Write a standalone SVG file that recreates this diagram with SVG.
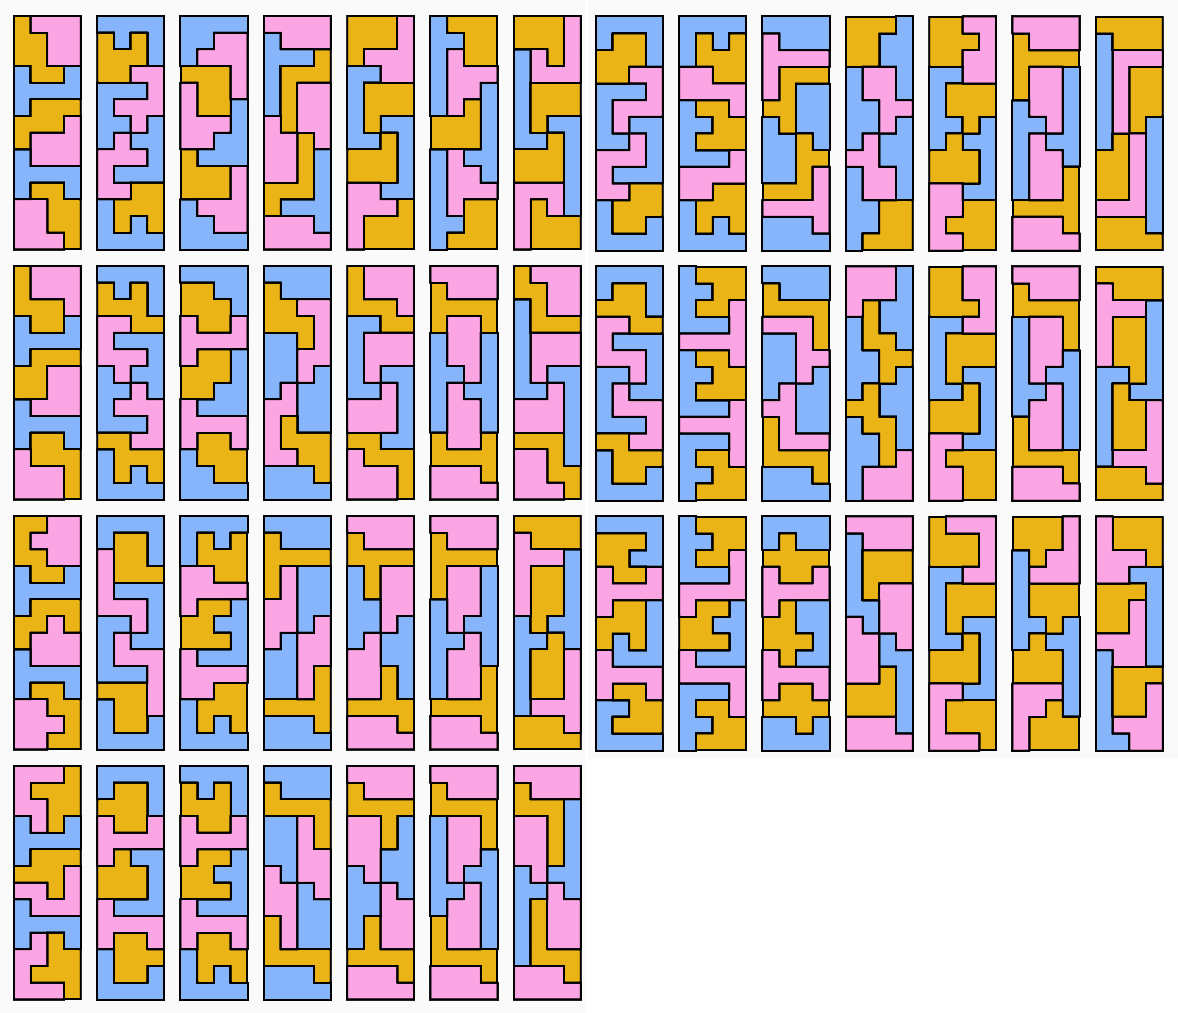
<svg xmlns="http://www.w3.org/2000/svg" width="1178" height="1013" viewBox="0 0 1178 1013">
<style>
.b{fill:#86B5FB}.y{fill:#EBB416}.p{fill:#FBA5E4}
</style>
<defs>
<filter id="outline" filterUnits="userSpaceOnUse" x="0" y="0" width="1178" height="1013" color-interpolation-filters="sRGB">
<feColorMatrix in="SourceGraphic" type="matrix" values="0 0 0 0 0 0 0 0 0 0 0 0 0 0 0 0 0 -2 1.6 0" result="my"/>
<feColorMatrix in="SourceGraphic" type="matrix" values="0 0 0 0 0 0 0 0 0 0 0 0 0 0 0 4 0 2 0 -4.2" result="mp"/>
<feColorMatrix in="SourceGraphic" type="matrix" values="0 0 0 0 0 0 0 0 0 0 0 0 0 0 0 -3 0 3 0 0" result="mb"/>
<feMorphology in="my" operator="dilate" radius="1" result="myd"/>
<feMorphology in="my" operator="erode" radius="1" result="mye"/>
<feComposite in="myd" in2="mye" operator="out" result="ey"/>
<feMorphology in="mp" operator="dilate" radius="1" result="mpd"/>
<feMorphology in="mp" operator="erode" radius="1" result="mpe"/>
<feComposite in="mpd" in2="mpe" operator="out" result="ep"/>
<feMorphology in="mb" operator="dilate" radius="1" result="mbd"/>
<feMorphology in="mb" operator="erode" radius="1" result="mbe"/>
<feComposite in="mbd" in2="mbe" operator="out" result="eb"/>
<feMerge result="band"><feMergeNode in="ey"/><feMergeNode in="ep"/><feMergeNode in="eb"/></feMerge>
<feFlood flood-color="#000" result="ink"/>
<feComposite in="ink" in2="band" operator="in" result="lines"/>
<feMerge><feMergeNode in="SourceGraphic"/><feMergeNode in="lines"/></feMerge>
</filter>
</defs>
<rect width="1178" height="1013" fill="#ffffff"/>
<rect x="0" y="0" width="585" height="1013" fill="#fafafa"/>
<rect x="588" y="0" width="590" height="759" fill="#fafafa"/>
<g id="tiles" filter="url(#outline)">
<g id="r1c1" transform="translate(14 16) scale(16.667)"><rect class="b" width="4" height="14"/><path class="y" d="M0 0h1v1h-1zM0 1h2v2h-2zM1 3h2v1h-2zM1 5h3v1h-3zM0 6h3v1h-3zM0 7h1v1h-1zM1 10h2v1h-2zM2 11h2v2h-2zM3 13h1v1h-1z"/><path class="p" d="M1 0h3v1h-3zM2 1h2v2h-2zM3 6h1v1h-1zM1 7h3v2h-3zM0 11h2v2h-2zM0 13h3v1h-3z"/></g>
<g id="r1c2" transform="translate(97.33 16) scale(16.667)"><rect class="b" width="4" height="14"/><path class="y" d="M0 1h1v1h-1zM2 1h1v1h-1zM0 2h3v1h-3zM0 3h2v1h-2zM2 10h2v1h-2zM1 11h3v1h-3zM1 12h1v1h-1zM3 12h1v1h-1z"/><path class="p" d="M2 3h2v1h-2zM3 4h1v1h-1zM1 5h3v1h-3zM2 6h1v1h-1zM1 7h1v1h-1zM0 8h3v1h-3zM0 9h1v1h-1zM0 10h2v1h-2z"/></g>
<g id="r1c3" transform="translate(180.67 16) scale(16.667)"><rect class="b" width="4" height="14"/><path class="y" d="M0 3h3v1h-3zM1 4h2v2h-2zM0 8h1v1h-1zM0 9h3v2h-3z"/><path class="p" d="M2 1h2v1h-2zM1 2h3v1h-3zM3 3h1v2h-1zM0 4h1v2h-1zM0 6h3v1h-3zM0 7h2v1h-2zM3 9h1v2h-1zM1 11h3v1h-3zM2 12h2v1h-2z"/></g>
<g id="r1c4" transform="translate(264 16) scale(16.667)"><rect class="b" width="4" height="14"/><path class="y" d="M3 2h1v1h-1zM1 3h3v1h-3zM1 4h1v3h-1zM2 7h1v3h-1zM0 10h3v1h-3zM0 11h1v1h-1z"/><path class="p" d="M0 0h4v1h-4zM1 1h3v1h-3zM2 4h2v3h-2zM0 6h1v1h-1zM0 7h2v3h-2zM3 7h1v1h-1zM0 12h3v1h-3zM0 13h4v1h-4z"/></g>
<g id="r1c5" transform="translate(347.33 16) scale(16.667)"><rect class="b" width="4" height="14"/><path class="y" d="M0 0h3v2h-3zM0 2h1v1h-1zM1 4h3v2h-3zM1 6h1v1h-1zM2 7h1v1h-1zM0 8h3v2h-3zM3 11h1v1h-1zM1 12h3v2h-3z"/><path class="p" d="M3 0h1v2h-1zM1 2h3v1h-3zM2 3h2v1h-2zM0 10h2v1h-2zM0 11h3v1h-3zM0 12h1v2h-1z"/></g>
<g id="r1c6" transform="translate(430.67 16) scale(16.667)"><rect class="b" width="4" height="14"/><path class="y" d="M1 0h3v1h-3zM2 1h2v2h-2zM2 5h1v1h-1zM0 6h3v2h-3zM2 11h2v2h-2zM1 13h3v1h-3z"/><path class="p" d="M1 2h1v1h-1zM1 3h3v1h-3zM1 4h2v1h-2zM1 5h1v1h-1zM1 8h1v1h-1zM1 9h2v1h-2zM1 10h3v1h-3zM1 11h1v1h-1z"/></g>
<g id="r1c7" transform="translate(514 16) scale(16.667)"><rect class="b" width="4" height="14"/><path class="y" d="M0 0h3v2h-3zM2 2h1v1h-1zM1 4h3v2h-3zM1 6h1v1h-1zM2 7h1v1h-1zM0 8h3v2h-3zM1 11h1v1h-1zM1 12h3v2h-3z"/><path class="p" d="M3 0h1v3h-1zM1 2h1v1h-1zM1 3h3v1h-3zM0 10h3v1h-3zM0 11h1v3h-1zM2 11h1v1h-1z"/></g>
<g id="r1c8" transform="translate(596 16.8) scale(16.667)"><rect class="b" width="4" height="14"/><path class="y" d="M1 1h2v1h-2zM0 2h3v1h-3zM0 3h2v1h-2zM2 10h2v1h-2zM1 11h3v1h-3zM1 12h2v1h-2z"/><path class="p" d="M2 3h2v1h-2zM3 4h1v1h-1zM1 5h3v1h-3zM1 6h1v1h-1zM2 7h1v1h-1zM0 8h3v1h-3zM0 9h1v1h-1zM0 10h2v1h-2z"/></g>
<g id="r1c9" transform="translate(679.33 16.8) scale(16.667)"><rect class="b" width="4" height="14"/><path class="y" d="M1 1h1v1h-1zM3 1h1v1h-1zM1 2h3v1h-3zM2 3h2v1h-2zM1 5h2v1h-2zM2 6h2v1h-2zM1 7h3v1h-3zM2 10h2v1h-2zM1 11h3v1h-3zM1 12h1v1h-1zM3 12h1v1h-1z"/><path class="p" d="M0 3h2v1h-2zM0 4h4v1h-4zM3 5h1v1h-1zM3 8h1v1h-1zM0 9h4v1h-4zM0 10h2v1h-2z"/></g>
<g id="r1c10" transform="translate(762.67 16.8) scale(16.667)"><rect class="b" width="4" height="14"/><path class="y" d="M1 3h3v1h-3zM1 4h1v1h-1zM0 5h2v1h-2zM1 6h1v1h-1zM2 7h1v3h-1zM3 8h1v1h-1zM0 10h3v1h-3z"/><path class="p" d="M0 1h1v1h-1zM0 2h4v1h-4zM0 3h1v2h-1zM3 9h1v2h-1zM0 11h4v1h-4zM3 12h1v1h-1z"/></g>
<g id="r1c11" transform="translate(846 16.8) scale(16.667)"><rect class="b" width="4" height="14"/><path class="y" d="M0 0h3v1h-3zM0 1h2v2h-2zM2 11h2v2h-2zM1 13h3v1h-3z"/><path class="p" d="M1 3h2v2h-2zM2 5h2v1h-2zM2 6h1v1h-1zM1 7h1v1h-1zM0 8h2v1h-2zM1 9h2v2h-2z"/></g>
<g id="r1c12" transform="translate(929.33 16.8) scale(16.667)"><rect class="b" width="4" height="14"/><path class="y" d="M0 0h2v3h-2zM2 1h1v1h-1zM1 4h3v2h-3zM2 6h1v1h-1zM1 7h1v1h-1zM0 8h3v2h-3zM2 11h2v3h-2zM1 12h1v1h-1z"/><path class="p" d="M2 0h2v1h-2zM3 1h1v1h-1zM2 2h2v2h-2zM0 10h2v2h-2zM0 12h1v1h-1zM0 13h2v1h-2z"/></g>
<g id="r1c13" transform="translate(1012.67 16.8) scale(16.667)"><rect class="b" width="4" height="14"/><path class="y" d="M0 1h1v1h-1zM0 2h4v1h-4zM0 3h1v2h-1zM3 9h1v2h-1zM0 11h4v1h-4zM3 12h1v1h-1z"/><path class="p" d="M0 0h4v1h-4zM1 1h3v1h-3zM1 3h2v3h-2zM2 6h1v1h-1zM1 7h1v1h-1zM1 8h2v3h-2zM0 12h3v1h-3zM0 13h4v1h-4z"/></g>
<g id="r1c14" transform="translate(1096 16.8) scale(16.667)"><rect class="b" width="4" height="14"/><path class="y" d="M0 0h4v1h-4zM1 1h3v1h-3zM2 3h2v3h-2zM2 6h1v1h-1zM1 7h1v1h-1zM0 8h2v3h-2zM0 12h3v1h-3zM0 13h4v1h-4z"/><path class="p" d="M1 2h3v1h-3zM1 3h1v4h-1zM2 7h1v4h-1zM0 11h3v1h-3z"/></g>
<g id="r2c1" transform="translate(14 266) scale(16.667)"><rect class="b" width="4" height="14"/><path class="y" d="M0 0h1v2h-1zM0 2h3v1h-3zM1 3h2v1h-2zM1 5h3v1h-3zM0 6h2v2h-2zM1 10h2v1h-2zM1 11h3v1h-3zM3 12h1v2h-1z"/><path class="p" d="M1 0h3v2h-3zM3 2h1v1h-1zM2 6h2v2h-2zM1 8h3v1h-3zM0 11h1v1h-1zM0 12h3v2h-3z"/></g>
<g id="r2c2" transform="translate(97.33 266) scale(16.667)"><rect class="b" width="4" height="14"/><path class="y" d="M0 1h1v1h-1zM2 1h1v1h-1zM0 2h3v1h-3zM2 3h2v1h-2zM0 10h2v1h-2zM1 11h3v1h-3zM1 12h1v1h-1zM3 12h1v1h-1z"/><path class="p" d="M0 3h2v1h-2zM0 4h1v1h-1zM0 5h3v1h-3zM1 6h1v1h-1zM2 7h1v1h-1zM1 8h3v1h-3zM3 9h1v1h-1zM2 10h2v1h-2z"/></g>
<g id="r2c3" transform="translate(180.67 266) scale(16.667)"><rect class="b" width="4" height="14"/><path class="y" d="M0 1h2v1h-2zM0 2h3v1h-3zM1 3h2v1h-2zM1 5h2v1h-2zM0 6h3v1h-3zM0 7h2v1h-2zM1 10h2v1h-2zM1 11h3v1h-3zM2 12h2v1h-2z"/><path class="p" d="M0 3h1v1h-1zM3 3h1v1h-1zM0 4h4v1h-4zM0 5h1v1h-1zM0 8h1v1h-1zM0 9h4v1h-4zM0 10h1v1h-1zM3 10h1v1h-1z"/></g>
<g id="r2c4" transform="translate(264 266) scale(16.667)"><rect class="b" width="4" height="14"/><path class="y" d="M0 1h1v1h-1zM0 2h2v1h-2zM0 3h3v1h-3zM2 4h1v1h-1zM1 9h1v1h-1zM1 10h3v1h-3zM2 11h2v1h-2zM3 12h1v1h-1z"/><path class="p" d="M2 2h2v1h-2zM3 3h1v2h-1zM2 5h2v1h-2zM2 6h1v1h-1zM1 7h1v1h-1zM0 8h2v1h-2zM0 9h1v2h-1zM0 11h2v1h-2z"/></g>
<g id="r2c5" transform="translate(347.33 266) scale(16.667)"><rect class="b" width="4" height="14"/><path class="y" d="M0 0h1v2h-1zM0 2h3v1h-3zM2 3h2v1h-2zM0 10h2v1h-2zM1 11h3v1h-3zM3 12h1v2h-1z"/><path class="p" d="M1 0h3v2h-3zM3 2h1v1h-1zM1 4h3v2h-3zM1 6h1v1h-1zM2 7h1v1h-1zM0 8h3v2h-3zM0 11h1v1h-1zM0 12h3v2h-3z"/></g>
<g id="r2c6" transform="translate(430.67 266) scale(16.667)"><rect class="b" width="4" height="14"/><path class="y" d="M0 1h1v1h-1zM0 2h4v1h-4zM0 3h1v1h-1zM3 3h1v1h-1zM0 10h1v1h-1zM3 10h1v1h-1zM0 11h4v1h-4zM3 12h1v1h-1z"/><path class="p" d="M0 0h4v1h-4zM1 1h3v1h-3zM1 3h2v3h-2zM2 6h1v1h-1zM1 7h1v1h-1zM1 8h2v3h-2zM0 12h3v1h-3zM0 13h4v1h-4z"/></g>
<g id="r2c7" transform="translate(514 266) scale(16.667)"><rect class="b" width="4" height="14"/><path class="y" d="M0 0h1v1h-1zM0 1h2v1h-2zM1 2h1v1h-1zM1 3h3v1h-3zM0 10h3v1h-3zM2 11h1v2h-1zM3 12h1v2h-1z"/><path class="p" d="M1 0h3v1h-3zM2 1h2v2h-2zM1 4h3v2h-3zM1 6h1v1h-1zM2 7h1v1h-1zM0 8h3v2h-3zM0 11h2v2h-2zM0 13h3v1h-3z"/></g>
<g id="r2c8" transform="translate(596 266.8) scale(16.667)"><rect class="b" width="4" height="14"/><path class="y" d="M1 1h2v1h-2zM0 2h3v1h-3zM2 3h2v1h-2zM0 10h2v1h-2zM1 11h3v1h-3zM1 12h2v1h-2z"/><path class="p" d="M0 3h2v1h-2zM0 4h1v1h-1zM0 5h3v1h-3zM2 6h1v1h-1zM1 7h1v1h-1zM1 8h3v1h-3zM3 9h1v1h-1zM2 10h2v1h-2z"/></g>
<g id="r2c9" transform="translate(679.33 266.8) scale(16.667)"><rect class="b" width="4" height="14"/><path class="y" d="M1 0h3v1h-3zM2 1h2v1h-2zM1 2h2v1h-2zM1 5h2v1h-2zM2 6h2v1h-2zM1 7h3v1h-3zM1 11h2v1h-2zM2 12h2v1h-2zM1 13h3v1h-3z"/><path class="p" d="M3 2h1v2h-1zM0 4h4v1h-4zM3 5h1v1h-1zM3 8h1v1h-1zM0 9h4v1h-4zM3 10h1v2h-1z"/></g>
<g id="r2c10" transform="translate(762.67 266.8) scale(16.667)"><rect class="b" width="4" height="14"/><path class="y" d="M0 1h1v1h-1zM0 2h4v1h-4zM3 3h1v2h-1zM0 9h1v2h-1zM0 11h4v1h-4zM3 12h1v1h-1z"/><path class="p" d="M0 3h3v1h-3zM2 4h1v1h-1zM2 5h2v1h-2zM2 6h1v1h-1zM1 7h1v1h-1zM0 8h2v1h-2zM1 9h1v1h-1zM1 10h3v1h-3z"/></g>
<g id="r2c11" transform="translate(846 266.8) scale(16.667)"><rect class="b" width="4" height="14"/><path class="y" d="M1 2h1v2h-1zM1 4h2v1h-2zM2 5h2v1h-2zM2 6h1v1h-1zM1 7h1v1h-1zM0 8h2v1h-2zM1 9h2v1h-2zM2 10h1v2h-1z"/><path class="p" d="M0 0h3v2h-3zM0 2h1v1h-1zM3 11h1v1h-1zM1 12h3v2h-3z"/></g>
<g id="r2c12" transform="translate(929.33 266.8) scale(16.667)"><rect class="b" width="4" height="14"/><path class="y" d="M0 0h2v2h-2zM0 2h3v1h-3zM1 4h3v2h-3zM1 6h1v1h-1zM2 7h1v1h-1zM0 8h3v2h-3zM1 11h3v1h-3zM2 12h2v2h-2z"/><path class="p" d="M2 0h2v2h-2zM3 2h1v1h-1zM2 3h2v1h-2zM0 10h2v1h-2zM0 11h1v1h-1zM0 12h2v2h-2z"/></g>
<g id="r2c13" transform="translate(1012.67 266.8) scale(16.667)"><rect class="b" width="4" height="14"/><path class="y" d="M0 1h1v1h-1zM0 2h4v1h-4zM3 3h1v2h-1zM0 9h1v2h-1zM0 11h4v1h-4zM3 12h1v1h-1z"/><path class="p" d="M0 0h4v1h-4zM1 1h3v1h-3zM1 3h2v3h-2zM1 6h1v1h-1zM2 7h1v1h-1zM1 8h2v3h-2zM0 12h3v1h-3zM0 13h4v1h-4z"/></g>
<g id="r2c14" transform="translate(1096 266.8) scale(16.667)"><rect class="b" width="4" height="14"/><path class="y" d="M0 0h4v1h-4zM1 1h3v1h-3zM1 3h2v3h-2zM2 6h1v1h-1zM1 7h1v1h-1zM1 8h2v3h-2zM0 12h3v1h-3zM0 13h4v1h-4z"/><path class="p" d="M0 1h1v1h-1zM0 2h3v1h-3zM0 3h1v3h-1zM3 8h1v3h-1zM1 11h3v1h-3zM3 12h1v1h-1z"/></g>
<g id="r3c1" transform="translate(14 516) scale(16.667)"><rect class="b" width="4" height="14"/><path class="y" d="M0 0h2v1h-2zM0 1h1v1h-1zM0 2h2v1h-2zM1 3h2v1h-2zM1 5h3v1h-3zM0 6h2v1h-2zM3 6h1v1h-1zM0 7h1v1h-1zM1 10h2v1h-2zM2 11h2v1h-2zM3 12h1v1h-1zM2 13h2v1h-2z"/><path class="p" d="M2 0h2v1h-2zM1 1h3v1h-3zM2 2h2v1h-2zM2 6h1v1h-1zM1 7h3v2h-3zM0 11h2v1h-2zM0 12h3v1h-3zM0 13h2v1h-2z"/></g>
<g id="r3c2" transform="translate(97.33 516) scale(16.667)"><rect class="b" width="4" height="14"/><path class="y" d="M1 1h2v2h-2zM1 3h3v1h-3zM0 10h3v1h-3zM1 11h2v2h-2z"/><path class="p" d="M0 2h1v3h-1zM0 5h3v1h-3zM2 6h1v1h-1zM1 7h1v1h-1zM1 8h3v1h-3zM3 9h1v3h-1z"/></g>
<g id="r3c3" transform="translate(180.67 516) scale(16.667)"><rect class="b" width="4" height="14"/><path class="y" d="M1 1h1v1h-1zM3 1h1v1h-1zM1 2h3v1h-3zM2 3h2v1h-2zM1 5h2v1h-2zM0 6h2v1h-2zM0 7h3v1h-3zM2 10h2v1h-2zM1 11h3v1h-3zM1 12h1v1h-1zM3 12h1v1h-1z"/><path class="p" d="M0 3h2v1h-2zM0 4h4v1h-4zM0 5h1v1h-1zM0 8h1v1h-1zM0 9h4v1h-4zM0 10h2v1h-2z"/></g>
<g id="r3c4" transform="translate(264 516) scale(16.667)"><rect class="b" width="4" height="14"/><path class="y" d="M0 1h1v1h-1zM0 2h4v1h-4zM0 3h1v2h-1zM3 9h1v2h-1zM0 11h4v1h-4zM3 12h1v1h-1z"/><path class="p" d="M1 3h1v2h-1zM0 5h2v2h-2zM3 6h1v1h-1zM0 7h1v1h-1zM2 7h2v2h-2zM2 9h1v2h-1z"/></g>
<g id="r3c5" transform="translate(347.33 516) scale(16.667)"><rect class="b" width="4" height="14"/><path class="y" d="M0 1h1v1h-1zM0 2h4v1h-4zM1 3h1v2h-1zM2 9h1v2h-1zM0 11h4v1h-4zM3 12h1v1h-1z"/><path class="p" d="M0 0h4v1h-4zM1 1h3v1h-3zM2 3h2v3h-2zM2 6h1v1h-1zM1 7h1v1h-1zM0 8h2v3h-2zM0 12h3v1h-3zM0 13h4v1h-4z"/></g>
<g id="r3c6" transform="translate(430.67 516) scale(16.667)"><rect class="b" width="4" height="14"/><path class="y" d="M0 1h1v1h-1zM0 2h4v1h-4zM0 3h1v2h-1zM3 9h1v2h-1zM0 11h4v1h-4zM3 12h1v1h-1z"/><path class="p" d="M0 0h4v1h-4zM1 1h3v1h-3zM1 3h2v3h-2zM1 6h1v1h-1zM2 7h1v1h-1zM1 8h2v3h-2zM0 12h3v1h-3zM0 13h4v1h-4z"/></g>
<g id="r3c7" transform="translate(514 516) scale(16.667)"><rect class="b" width="4" height="14"/><path class="y" d="M0 0h4v1h-4zM1 1h3v1h-3zM1 3h2v3h-2zM1 6h1v1h-1zM2 7h1v1h-1zM1 8h2v3h-2zM0 12h3v1h-3zM0 13h4v1h-4z"/><path class="p" d="M0 1h1v1h-1zM0 2h3v1h-3zM0 3h1v3h-1zM3 8h1v3h-1zM1 11h3v1h-3zM3 12h1v1h-1z"/></g>
<g id="r3c8" transform="translate(596 516.8) scale(16.667)"><rect class="b" width="4" height="14"/><path class="y" d="M0 1h3v1h-3zM0 2h2v1h-2zM1 3h2v1h-2zM1 5h2v1h-2zM0 6h3v1h-3zM0 7h1v1h-1zM2 7h1v1h-1zM1 10h2v1h-2zM2 11h2v1h-2zM1 12h3v1h-3z"/><path class="p" d="M0 3h1v1h-1zM3 3h1v1h-1zM0 4h4v1h-4zM0 5h1v1h-1zM0 8h1v1h-1zM0 9h4v1h-4zM0 10h1v1h-1zM3 10h1v1h-1z"/></g>
<g id="r3c9" transform="translate(679.33 516.8) scale(16.667)"><rect class="b" width="4" height="14"/><path class="y" d="M1 0h3v1h-3zM2 1h2v1h-2zM1 2h2v1h-2zM1 5h2v1h-2zM0 6h2v1h-2zM0 7h3v1h-3zM1 11h2v1h-2zM2 12h2v1h-2zM1 13h3v1h-3z"/><path class="p" d="M3 2h1v2h-1zM0 4h4v1h-4zM0 5h1v1h-1zM0 8h1v1h-1zM0 9h4v1h-4zM3 10h1v2h-1z"/></g>
<g id="r3c10" transform="translate(762.67 516.8) scale(16.667)"><rect class="b" width="4" height="14"/><path class="y" d="M1 1h1v1h-1zM0 2h4v1h-4zM1 3h2v1h-2zM1 5h1v1h-1zM0 6h2v1h-2zM0 7h3v1h-3zM1 8h1v1h-1zM1 10h2v1h-2zM0 11h4v1h-4zM2 12h1v1h-1z"/><path class="p" d="M0 3h1v1h-1zM3 3h1v1h-1zM0 4h4v1h-4zM0 5h1v1h-1zM0 8h1v1h-1zM0 9h4v1h-4zM0 10h1v1h-1zM3 10h1v1h-1z"/></g>
<g id="r3c11" transform="translate(846 516.8) scale(16.667)"><rect class="b" width="4" height="14"/><path class="y" d="M1 2h3v2h-3zM1 4h1v1h-1zM2 9h1v1h-1zM0 10h3v2h-3z"/><path class="p" d="M0 0h4v1h-4zM1 1h3v1h-3zM2 4h2v3h-2zM0 6h1v1h-1zM3 7h1v1h-1zM0 7h2v3h-2zM0 12h3v1h-3zM0 13h4v1h-4z"/></g>
<g id="r3c12" transform="translate(929.33 516.8) scale(16.667)"><rect class="b" width="4" height="14"/><path class="y" d="M0 0h1v1h-1zM0 1h3v2h-3zM1 4h3v2h-3zM1 6h1v1h-1zM2 7h1v1h-1zM0 8h3v2h-3zM1 11h3v2h-3zM3 13h1v1h-1z"/><path class="p" d="M1 0h3v1h-3zM3 1h1v2h-1zM2 3h2v1h-2zM0 10h2v1h-2zM0 11h1v2h-1zM0 13h3v1h-3z"/></g>
<g id="r3c13" transform="translate(1012.67 516.8) scale(16.667)"><rect class="b" width="4" height="14"/><path class="y" d="M0 0h3v2h-3zM1 2h1v1h-1zM1 4h3v2h-3zM2 6h1v1h-1zM1 7h1v1h-1zM0 8h3v2h-3zM2 11h1v1h-1zM1 12h3v2h-3z"/><path class="p" d="M3 0h1v2h-1zM2 2h2v1h-2zM1 3h3v1h-3zM0 10h3v1h-3zM0 11h2v1h-2zM0 12h1v2h-1z"/></g>
<g id="r3c14" transform="translate(1096 516.8) scale(16.667)"><rect class="b" width="4" height="14"/><path class="y" d="M1 0h3v2h-3zM3 2h1v1h-1zM0 4h3v1h-3zM0 5h2v2h-2zM1 9h3v1h-3zM1 10h2v2h-2z"/><path class="p" d="M0 0h1v2h-1zM0 2h3v1h-3zM0 3h2v1h-2zM2 5h1v2h-1zM0 7h3v1h-3zM1 8h2v1h-2zM3 10h1v2h-1zM1 12h3v1h-3zM2 13h2v1h-2z"/></g>
<g id="r4c1" transform="translate(14 766) scale(16.667)"><rect class="b" width="4" height="14"/><path class="y" d="M3 0h1v1h-1zM1 1h3v1h-3zM2 2h2v1h-2zM2 3h1v1h-1zM1 5h3v1h-3zM0 6h3v1h-3zM2 7h1v1h-1zM2 10h1v1h-1zM2 11h2v1h-2zM1 12h3v1h-3zM3 13h1v1h-1z"/><path class="p" d="M0 0h3v1h-3zM0 1h1v1h-1zM0 2h2v1h-2zM1 3h1v1h-1zM3 6h1v1h-1zM0 7h2v1h-2zM3 7h1v1h-1zM1 8h3v1h-3zM1 10h1v1h-1zM0 11h2v1h-2zM0 12h1v1h-1zM0 13h3v1h-3z"/></g>
<g id="r4c2" transform="translate(97.33 766) scale(16.667)"><rect class="b" width="4" height="14"/><path class="y" d="M1 1h2v1h-2zM0 2h3v1h-3zM1 3h2v1h-2zM1 5h1v1h-1zM0 6h3v2h-3zM1 10h2v1h-2zM1 11h3v1h-3zM1 12h2v1h-2z"/><path class="p" d="M0 3h1v1h-1zM3 3h1v1h-1zM0 4h4v1h-4zM0 5h1v1h-1zM0 8h1v1h-1zM0 9h4v1h-4zM0 10h1v1h-1zM3 10h1v1h-1z"/></g>
<g id="r4c3" transform="translate(180.67 766) scale(16.667)"><rect class="b" width="4" height="14"/><path class="y" d="M0 1h1v1h-1zM2 1h1v1h-1zM0 2h3v1h-3zM1 3h2v1h-2zM1 5h2v1h-2zM0 6h2v1h-2zM0 7h3v1h-3zM1 10h2v1h-2zM1 11h3v1h-3zM1 12h1v1h-1zM3 12h1v1h-1z"/><path class="p" d="M0 3h1v1h-1zM3 3h1v1h-1zM0 4h4v1h-4zM0 5h1v1h-1zM0 8h1v1h-1zM0 9h4v1h-4zM0 10h1v1h-1zM3 10h1v1h-1z"/></g>
<g id="r4c4" transform="translate(264 766) scale(16.667)"><rect class="b" width="4" height="14"/><path class="y" d="M0 1h1v1h-1zM0 2h4v1h-4zM3 3h1v2h-1zM0 9h1v2h-1zM0 11h4v1h-4zM3 12h1v1h-1z"/><path class="p" d="M2 3h1v2h-1zM2 5h2v2h-2zM0 6h1v1h-1zM0 7h2v2h-2zM3 7h1v1h-1zM1 9h1v2h-1z"/></g>
<g id="r4c5" transform="translate(347.33 766) scale(16.667)"><rect class="b" width="4" height="14"/><path class="y" d="M0 1h1v1h-1zM0 2h4v1h-4zM2 3h1v2h-1zM1 9h1v2h-1zM0 11h4v1h-4zM3 12h1v1h-1z"/><path class="p" d="M0 0h4v1h-4zM1 1h3v1h-3zM0 3h2v3h-2zM1 6h1v1h-1zM2 7h1v1h-1zM2 8h2v3h-2zM0 12h3v1h-3zM0 13h4v1h-4z"/></g>
<g id="r4c6" transform="translate(430.67 766) scale(16.667)"><rect class="b" width="4" height="14"/><path class="y" d="M0 1h1v1h-1zM0 2h4v1h-4zM3 3h1v2h-1zM0 9h1v2h-1zM0 11h4v1h-4zM3 12h1v1h-1z"/><path class="p" d="M0 0h4v1h-4zM1 1h3v1h-3zM1 3h2v3h-2zM1 6h1v1h-1zM2 7h1v1h-1zM1 8h2v3h-2zM0 12h3v1h-3zM0 13h4v1h-4z"/></g>
<g id="r4c7" transform="translate(514 766) scale(16.667)"><rect class="b" width="4" height="14"/><path class="y" d="M0 1h1v1h-1zM0 2h3v1h-3zM2 3h1v3h-1zM1 8h1v3h-1zM1 11h3v1h-3zM3 12h1v1h-1z"/><path class="p" d="M0 0h4v1h-4zM1 1h3v1h-3zM0 3h2v3h-2zM1 6h1v1h-1zM2 7h1v1h-1zM2 8h2v3h-2zM0 12h3v1h-3zM0 13h4v1h-4z"/></g>
</g>
</svg>
